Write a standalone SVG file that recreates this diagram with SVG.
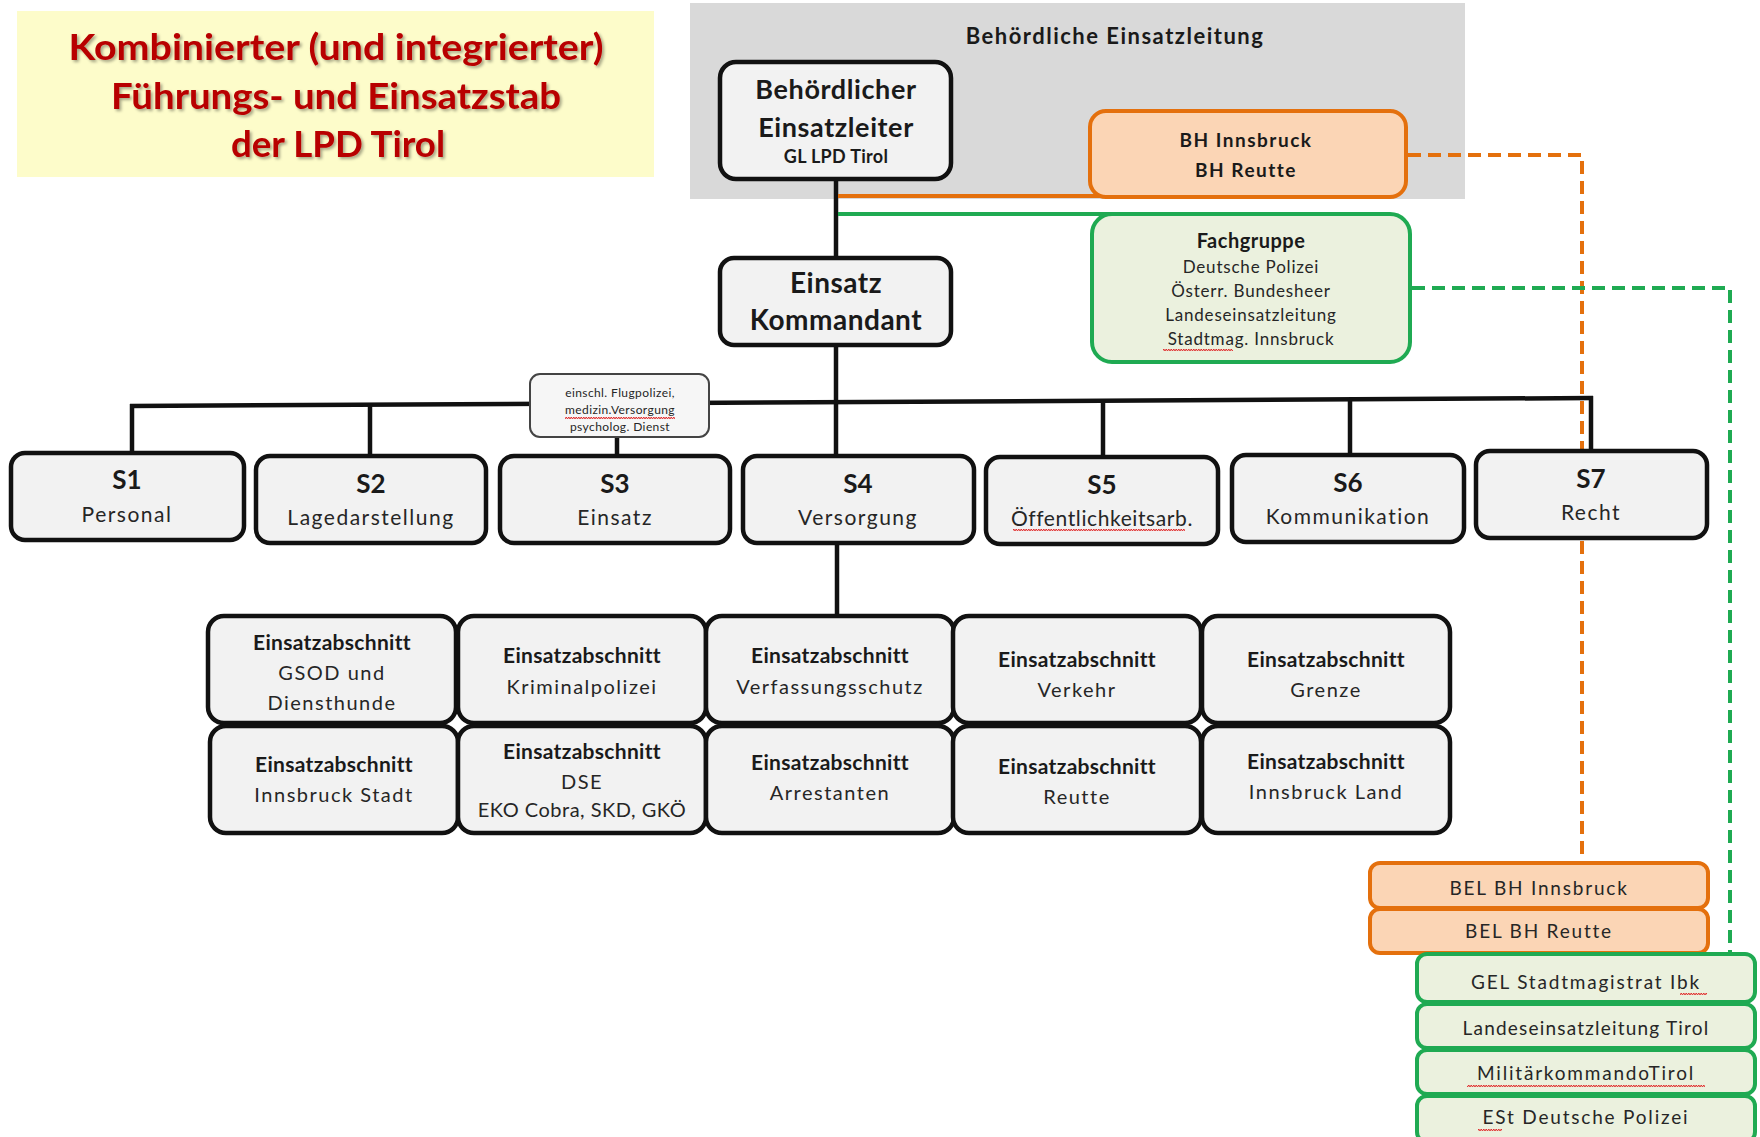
<svg xmlns="http://www.w3.org/2000/svg" width="1760" height="1137" viewBox="0 0 1760 1137">
<defs>
<style>
.t{font-family:Lato,'Liberation Sans',sans-serif;text-anchor:middle;fill:#262626}
.b{font-weight:bold;fill:#1a1a1a}
.box{fill:#f2f2f2;stroke:#111;stroke-width:4.5}
.obox{fill:#fbd5b5;stroke:#e4700d;stroke-width:4}
.gbox{fill:#ebf1de;stroke:#1faa52;stroke-width:4}
.ln{stroke:#111;stroke-width:4.5;fill:none}
.sl{font-size:26px}
.ss{font-size:21px;letter-spacing:1.5px}
.eb{font-size:21px;letter-spacing:0.3px}
.er{font-size:20px;letter-spacing:1.5px}
.rb{font-size:19px;letter-spacing:1.8px}
.sq{fill:url(#sq)}
</style>
<pattern id="sq" width="5" height="4" patternUnits="userSpaceOnUse"><path d="M0,3 L1.25,1 L2.5,3 L3.75,1 L5,3" fill="none" stroke="#e02a2a" stroke-width="1"/></pattern>
<filter id="sh" x="-5%" y="-20%" width="110%" height="140%"><feDropShadow dx="2" dy="2" stdDeviation="1.5" flood-color="#000" flood-opacity="0.35"/></filter>
</defs>
<rect width="1760" height="1137" fill="#fff"/>

<g id="title">
<rect x="17" y="11" width="637" height="166" fill="#fdfcca"/>
<g class="t b" style="font-size:37px;fill:#b80000" filter="url(#sh)">
<text x="336" y="60" textLength="535" lengthAdjust="spacingAndGlyphs">Kombinierter (und integrierter)</text>
<text x="336" y="109" textLength="450" lengthAdjust="spacingAndGlyphs">Führungs- und Einsatzstab</text>
<text x="338" y="157" textLength="214" lengthAdjust="spacingAndGlyphs">der LPD Tirol</text>
</g>
</g>

<g id="behoerdliche-einsatzleitung">
<rect x="690" y="3" width="775" height="196" fill="#d9d9d9"/>
<text class="t b" x="1115" y="44" style="font-size:22px;letter-spacing:1.5px">Behördliche Einsatzleitung</text>
</g>

<g id="connectors">
<line class="ln" x1="836" y1="180" x2="836" y2="258"/>
<line class="ln" x1="836" y1="345" x2="836" y2="456"/>
<line class="ln" x1="130" y1="406" x2="1593" y2="398"/>
<line class="ln" x1="132" y1="404" x2="132" y2="453"/>
<line class="ln" x1="370" y1="404" x2="370" y2="456"/>
<line class="ln" x1="617" y1="437" x2="617" y2="456"/>
<line class="ln" x1="1103" y1="400" x2="1103" y2="457"/>
<line class="ln" x1="1350" y1="399" x2="1350" y2="455"/>
<line class="ln" x1="1591" y1="396" x2="1591" y2="451"/>
<line class="ln" x1="837" y1="543" x2="837" y2="616"/>
<line x1="838" y1="196" x2="1110" y2="196" stroke="#e4700d" stroke-width="4"/>
<line x1="838" y1="214" x2="1115" y2="214" stroke="#1faa52" stroke-width="4"/>
<path d="M1408,155 H1582 V863" fill="none" stroke="#e4700d" stroke-width="4" stroke-dasharray="13 7"/>
<path d="M1412,288 H1730 V953" fill="none" stroke="#1faa52" stroke-width="4" stroke-dasharray="13 7"/>
</g>

<g id="behoerdlicher-einsatzleiter">
<rect class="box" x="720" y="62" width="231" height="117" rx="16"/>
<text class="t b" x="836" y="99" style="font-size:27px;letter-spacing:0.6px">Behördlicher</text>
<text class="t b" x="836" y="137" style="font-size:27px;letter-spacing:0.6px">Einsatzleiter</text>
<text class="t b" x="836" y="163" style="font-size:18px;letter-spacing:0.3px">GL LPD Tirol</text>
</g>

<g id="bh">
<rect class="obox" x="1090" y="111" width="316" height="86" rx="16"/>
<text class="t b" x="1246" y="147" style="font-size:19px;letter-spacing:1.5px">BH Innsbruck</text>
<text class="t b" x="1246" y="177" style="font-size:19px;letter-spacing:1.5px">BH Reutte</text>
</g>

<g id="einsatz-kommandant">
<rect class="box" x="720" y="258" width="231" height="87" rx="14"/>
<text class="t b" x="836" y="293" style="font-size:28px;letter-spacing:0.5px">Einsatz</text>
<text class="t b" x="836" y="330" style="font-size:28px;letter-spacing:0.5px">Kommandant</text>
</g>

<g id="fachgruppe">
<rect class="gbox" x="1092" y="214" width="318" height="148" rx="20"/>
<text class="t b" x="1251" y="248" style="font-size:20px;letter-spacing:0.5px">Fachgruppe</text>
<g class="t" style="font-size:17px;letter-spacing:0.8px">
<text x="1251" y="273">Deutsche Polizei</text>
<text x="1251" y="297">Österr. Bundesheer</text>
<text x="1251" y="321">Landeseinsatzleitung</text>
<text x="1251" y="345">Stadtmag. Innsbruck</text>
</g>
<rect class="sq" x="1163" y="348" width="70" height="4"/>
</g>

<g id="s3-info">
<rect x="530" y="374" width="179" height="63" rx="10" fill="#f6f6f6" stroke="#444" stroke-width="2"/>
<g class="t" style="font-size:12px;letter-spacing:0.4px">
<text x="620" y="397">einschl. Flugpolizei,</text>
<text x="620" y="414">medizin.Versorgung</text>
<text x="620" y="431">psycholog. Dienst</text>
</g>
<rect class="sq" x="565" y="416" width="110" height="4"/>
</g>

<g id="s1"><rect class="box" x="11" y="453" width="233" height="87" rx="14"/>
<text class="t b sl" x="127" y="489">S1</text><text class="t ss" x="127" y="522">Personal</text></g>
<g id="s2"><rect class="box" x="256" y="456" width="230" height="87" rx="14"/>
<text class="t b sl" x="371" y="493">S2</text><text class="t ss" x="371" y="525">Lagedarstellung</text></g>
<g id="s3"><rect class="box" x="500" y="456" width="230" height="87" rx="14"/>
<text class="t b sl" x="615" y="493">S3</text><text class="t ss" x="615" y="525">Einsatz</text></g>
<g id="s4"><rect class="box" x="743" y="456" width="231" height="87" rx="14"/>
<text class="t b sl" x="858" y="493">S4</text><text class="t ss" x="858" y="525">Versorgung</text></g>
<g id="s5"><rect class="box" x="986" y="457" width="232" height="87" rx="14"/>
<text class="t b sl" x="1102" y="494">S5</text><text class="t ss" x="1102" y="526" style="letter-spacing:0.6px">Öffentlichkeitsarb.</text>
<rect class="sq" x="1013" y="529" width="172" height="4"/></g>
<g id="s6"><rect class="box" x="1232" y="455" width="232" height="87" rx="14"/>
<text class="t b sl" x="1348" y="492">S6</text><text class="t ss" x="1348" y="524">Kommunikation</text></g>
<g id="s7"><rect class="box" x="1476" y="451" width="231" height="87" rx="14"/>
<text class="t b sl" x="1591" y="488">S7</text><text class="t ss" x="1591" y="520">Recht</text></g>

<g id="ea-gsod"><rect class="box" x="208" y="616" width="248" height="107" rx="16"/>
<text class="t b eb" x="332" y="650">Einsatzabschnitt</text><text class="t er" x="332" y="680">GSOD und</text><text class="t er" x="332" y="710">Diensthunde</text></g>
<g id="ea-kripo"><rect class="box" x="458" y="616" width="248" height="107" rx="16"/>
<text class="t b eb" x="582" y="663">Einsatzabschnitt</text><text class="t er" x="582" y="694">Kriminalpolizei</text></g>
<g id="ea-verfassungsschutz"><rect class="box" x="706" y="616" width="248" height="107" rx="16"/>
<text class="t b eb" x="830" y="663">Einsatzabschnitt</text><text class="t er" x="830" y="694">Verfassungsschutz</text></g>
<g id="ea-verkehr"><rect class="box" x="953" y="616" width="248" height="107" rx="16"/>
<text class="t b eb" x="1077" y="667">Einsatzabschnitt</text><text class="t er" x="1077" y="697">Verkehr</text></g>
<g id="ea-grenze"><rect class="box" x="1202" y="616" width="248" height="107" rx="16"/>
<text class="t b eb" x="1326" y="667">Einsatzabschnitt</text><text class="t er" x="1326" y="697">Grenze</text></g>

<g id="ea-ibk-stadt"><rect class="box" x="210" y="726" width="248" height="107" rx="16"/>
<text class="t b eb" x="334" y="772">Einsatzabschnitt</text><text class="t er" x="334" y="802">Innsbruck Stadt</text></g>
<g id="ea-dse"><rect class="box" x="458" y="726" width="248" height="107" rx="16"/>
<text class="t b eb" x="582" y="759">Einsatzabschnitt</text><text class="t er" x="582" y="789">DSE</text><text class="t er" x="582" y="817" style="letter-spacing:0.5px">EKO Cobra, SKD, GKÖ</text></g>
<g id="ea-arrestanten"><rect class="box" x="706" y="726" width="248" height="107" rx="16"/>
<text class="t b eb" x="830" y="770">Einsatzabschnitt</text><text class="t er" x="830" y="800">Arrestanten</text></g>
<g id="ea-reutte"><rect class="box" x="953" y="726" width="248" height="107" rx="16"/>
<text class="t b eb" x="1077" y="774">Einsatzabschnitt</text><text class="t er" x="1077" y="804">Reutte</text></g>
<g id="ea-ibk-land"><rect class="box" x="1202" y="726" width="248" height="107" rx="16"/>
<text class="t b eb" x="1326" y="769">Einsatzabschnitt</text><text class="t er" x="1326" y="799">Innsbruck Land</text></g>

<g id="bel-bh-innsbruck"><rect class="obox" x="1370" y="863" width="338" height="45" rx="10"/>
<text class="t rb" x="1539" y="895">BEL  BH  Innsbruck</text></g>
<g id="bel-bh-reutte"><rect class="obox" x="1370" y="909" width="338" height="44" rx="10"/>
<text class="t rb" x="1539" y="938">BEL  BH  Reutte</text></g>

<g id="gel-stadtmagistrat"><rect class="gbox" x="1417" y="954" width="338" height="48" rx="10"/>
<text class="t rb" x="1586" y="989">GEL  Stadtmagistrat Ibk</text>
<rect class="sq" x="1680" y="992" width="27" height="4"/></g>
<g id="landeseinsatzleitung"><rect class="gbox" x="1417" y="1004" width="338" height="44" rx="10"/>
<text class="t rb" x="1586" y="1035" style="letter-spacing:1.2px">Landeseinsatzleitung Tirol</text></g>
<g id="militaerkommando"><rect class="gbox" x="1417" y="1050" width="338" height="44" rx="10"/>
<text class="t rb" x="1586" y="1080">MilitärkommandoTirol</text>
<rect class="sq" x="1467" y="1083" width="238" height="4"/></g>
<g id="est-deutsche-polizei"><rect class="gbox" x="1417" y="1096" width="338" height="46" rx="10"/>
<text class="t rb" x="1586" y="1124">ESt  Deutsche  Polizei</text>
<rect class="sq" x="1478" y="1127" width="24" height="4"/></g>
</svg>
